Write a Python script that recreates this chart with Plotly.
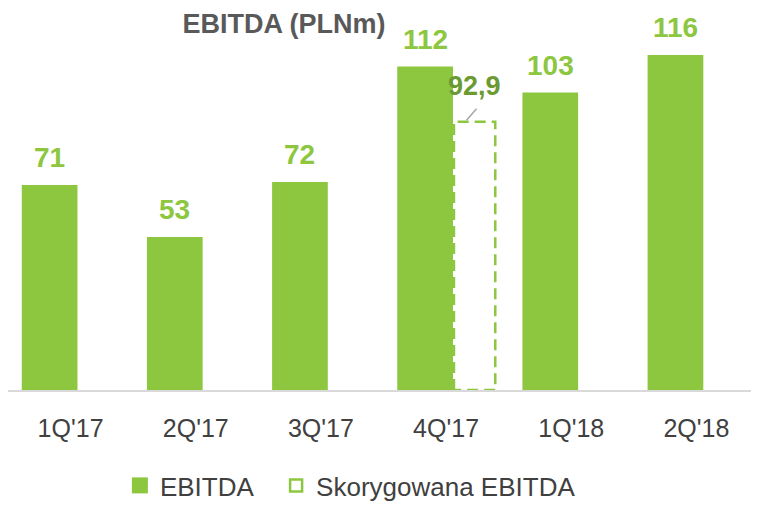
import plotly.graph_objects as go

# Data
quarters = ["1Q'17", "2Q'17", "3Q'17", "4Q'17", "1Q'18", "2Q'18"]
ebitda = [71, 53, 72, 112, 103, 116]
adj_quarter = "4Q'17"
adj_value = 92.9
adj_label = "92,9"

# Styles
green = "#8dc63f"
dark_green = "#6b9a30"
font = "Liberation Sans, Arial, sans-serif"

W, H = 751, 501  # page adds an 8px body margin around the plot

x_pos = list(range(len(quarters)))
bar_offset = -0.39
bar_width = 0.445
adj_offset = 0.063
adj_width = 0.33

fig = go.Figure()

# Main bars
fig.add_trace(
    go.Bar(
        x=x_pos,
        y=ebitda,
        offset=bar_offset,
        width=bar_width,
        marker=dict(color=green, line=dict(width=0)),
        name="EBITDA",
        showlegend=False,
    )
)

# Adjusted EBITDA as dashed outline
i_adj = quarters.index(adj_quarter)
ax0 = i_adj + adj_offset
ax1 = ax0 + adj_width
fig.add_trace(
    go.Scatter(
        x=[ax0, ax0, ax1, ax1, ax0],
        y=[0, adj_value, adj_value, 0, 0],
        mode="lines",
        line=dict(color=green, width=2.5, dash="11px,6px"),
        showlegend=False,
        hoverinfo="skip",
        cliponaxis=False,
    )
)

# Legend entries (bigger symbols than the bar default), one legend each
fig.add_trace(
    go.Scatter(
        x=[None],
        y=[None],
        mode="markers",
        marker=dict(symbol="square", size=16, color=green),
        name="EBITDA",
        legend="legend",
    )
)
fig.add_trace(
    go.Scatter(
        x=[None],
        y=[None],
        mode="markers",
        marker=dict(symbol="square-open", size=12, color=green, line=dict(width=2.5)),
        name="Skorygowana EBITDA",
        legend="legend2",
    )
)

# Value labels
for i, v in zip(x_pos, ebitda):
    fig.add_annotation(
        x=i + bar_offset + bar_width / 2,
        y=v,
        text=f"<b>{v}</b>",
        showarrow=False,
        yanchor="bottom",
        yshift=10,
        font=dict(family=font, size=28, color=green),
    )

fig.add_annotation(
    x=(ax0 + ax1) / 2,
    y=adj_value,
    text=f"<b>{adj_label}</b>",
    showarrow=False,
    yanchor="bottom",
    yshift=19,
    font=dict(family=font, size=27, color=dark_green),
)
# small leader line
fig.add_shape(
    type="line",
    x0=ax0 + 0.1,
    x1=ax0 + 0.18,
    y0=adj_value + 0.5,
    y1=adj_value + 4.5,
    line=dict(color="#a6a6a6", width=1.5),
)

legend_style = dict(
    orientation="h",
    xanchor="left",
    y=-0.273,
    yanchor="middle",
    font=dict(family=font, size=26, color="#404040"),
    itemwidth=30,
)

fig.update_layout(
    width=W,
    height=H,
    margin=dict(l=0, r=0, t=32, b=114),
    plot_bgcolor="white",
    paper_bgcolor="white",
    barmode="overlay",
    title=dict(
        text="<b>EBITDA (PLNm)</b>",
        x=276 / W,
        xanchor="center",
        y=1 - 16 / H,
        yanchor="middle",
        font=dict(family=font, size=27, color="#595959"),
    ),
    xaxis=dict(
        range=[-0.5, 5.5],
        tickvals=x_pos,
        ticktext=quarters,
        showgrid=False,
        zeroline=False,
        showline=True,
        linecolor="#d9d9d9",
        linewidth=2,
        ticks="",
        ticklabelstandoff=15,
        tickfont=dict(family=font, size=25, color="#404040"),
    ),
    yaxis=dict(
        range=[0, 121.2],
        visible=False,
        showgrid=False,
        zeroline=False,
    ),
    legend=dict(x=0.149, **legend_style),
    legend2=dict(x=0.357, **legend_style),
    showlegend=True,
)

fig.write_html("out.html")
